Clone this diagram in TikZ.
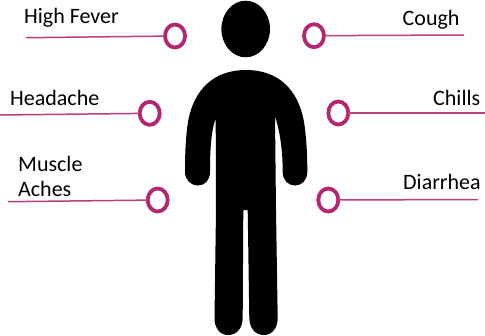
\documentclass[tikz,border=0pt]{standalone}
\usepackage{fontspec}
\setmainfont{Carlito}
\usetikzlibrary{shapes.geometric}
\definecolor{ringc}{HTML}{B2276F}
\definecolor{linec}{HTML}{BC3F80}
\tikzset{
  ring/.style={draw=ringc,line width=3.8pt,ellipse,fill=white,minimum width=20pt,minimum height=23pt,inner sep=0pt,outer sep=0pt},
  lead/.style={draw=linec,line width=1.5pt},
  lbl/.style={font=\fontsize{22}{26}\selectfont,text=black,inner sep=0pt,anchor=base west,align=left},
  figure/.style={fill=black,draw=none}
}
\begin{document}
\begin{tikzpicture}[x=1pt,y=-1pt]
\useasboundingbox (0,0) rectangle (485,335);
% figure
\fill[figure] (245.7,29) ellipse [x radius=24.3,y radius=28.3];
\fill[figure] (246,70)
 .. controls (215,70) and (194,88) .. (188,122)
 .. controls (186,135) and (185,150) .. (185,172)
 .. controls (185,180) and (191,185.5) .. (198,185.5)
 .. controls (205,185.5) and (210,180) .. (210,172)
 .. controls (210,150) and (211,132) .. (215.7,118)
 -- (216,210) -- (214.5,318)
 .. controls (214.5,328) and (220,335) .. (228,335)
 .. controls (237,335) and (242.5,328) .. (242.7,318)
 -- (243.3,210) -- (247.7,210) -- (249.3,318)
 .. controls (249.5,328) and (255,335) .. (264,335)
 .. controls (272,335) and (277.7,328) .. (277.7,318)
 -- (276,210) -- (275,116)
 .. controls (280,132) and (282.7,150) .. (282.7,172)
 .. controls (282.7,180) and (288,185.5) .. (295,185.5)
 .. controls (302,185.5) and (307.3,180) .. (307.3,172)
 .. controls (307.3,150) and (306,135) .. (304,122)
 .. controls (298,88) and (277,70) .. (246,70) -- cycle;
% rings
\node[ring] (r1) at (175,36) {};
\node[ring] (r2) at (149.7,113.3) {};
\node[ring] (r3) at (157.7,200) {};
\node[ring] (r4) at (314,35.7) {};
\node[ring] (r5) at (338.3,113) {};
\node[ring] (r6) at (328.3,200) {};
% free ends
\coordinate (e1) at (26,37.7);
\coordinate (e2) at (0,115);
\coordinate (e3) at (8,201.7);
\coordinate (e4) at (464,35);
\coordinate (e5) at (485,113);
\coordinate (e6) at (478,199.5);
\draw[lead] (e1) -- (r1);
\draw[lead] (e2) -- (r2);
\draw[lead] (e3) -- (r3);
\draw[lead] (r4) -- (e4);
\draw[lead] (r5) -- (e5);
\draw[lead] (r6) -- (e6);
% labels
\node[lbl] (t1) at (24,23) {High Fever};
\node[lbl] (t2) at (10,105) {Headache};
\node[lbl] (t3) at (18,171) {Muscle};
\node[lbl] (t3b) at (18,196.5) {Aches};
\node[lbl] (t4) at (402.5,25) {Cough};
\node[lbl] (t5) at (433,105.5) {Chills};
\node[lbl] (t6) at (403,189) {Diarrhea};
\end{tikzpicture}
\end{document}
